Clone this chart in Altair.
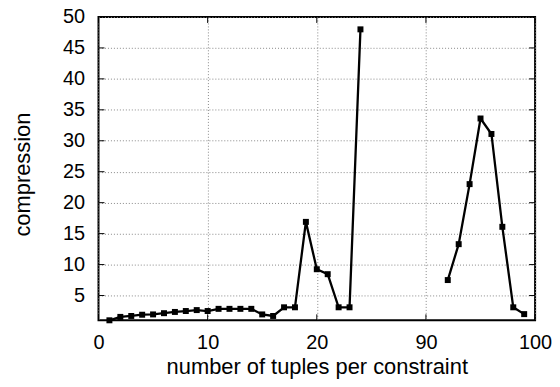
import altair as alt
import pandas as pd

# data
tuples = [1, 2, 3, 4, 5, 6, 7, 8, 9, 10, 11, 12, 13, 14, 15, 16, 17, 18, 19, 20, 21, 22, 23, 24,
          92, 93, 94, 95, 96, 97, 98, 99]
compression = [1.0, 1.55, 1.7, 1.9, 1.95, 2.15, 2.35, 2.5, 2.65, 2.5, 2.85, 2.85, 2.85, 2.85,
               1.95, 1.7, 3.1, 3.1, 16.9, 9.25, 8.45, 3.1, 3.1, 48.0,
               7.5, 13.3, 23.0, 33.6, 31.1, 16.1, 3.1, 2.0]
x_ticks = [0, 10, 20, 30, 40]          # axis positions (broken axis: 30 -> 90, 40 -> 100)
y_ticks = [5, 10, 15, 20, 25, 30, 35, 40, 45, 50]

df = pd.DataFrame({"n": tuples, "c": compression})
yt = pd.DataFrame({"v": y_ticks})
xt = pd.DataFrame({"v": x_ticks})

FONT = "Liberation Sans"
W, H = 439, 305

xscale = alt.Scale(domain=[0, 40], nice=False, zero=False)
yscale = alt.Scale(domain=[1, 50], nice=False, zero=False)

base = alt.Chart(df).transform_calculate(
    pos="datum.n > 50 ? datum.n - 60 : datum.n",
    seg="datum.n > 50 ? 'b' : 'a'",
)

xaxis = alt.Axis(values=x_ticks, labelExpr="datum.value >= 30 ? datum.value + 60 : datum.value",
                 title="number of tuples per constraint", tickSize=0, ticks=False, domain=False,
                 grid=True, gridColor="#888888", gridDash=[1, 2], gridWidth=1,
                 labelFont=FONT, labelFontSize=20, labelColor="black", labelPadding=12,
                 labelOverlap=False, labelFlush=False,
                 titleFont=FONT, titleFontSize=22, titleFontWeight="normal", titleColor="black",
                 titlePadding=4)
yaxis = alt.Axis(values=y_ticks, title="compression", tickSize=0, ticks=False, domain=False,
                 grid=True, gridColor="#888888", gridDash=[1, 2], gridWidth=1,
                 labelFont=FONT, labelFontSize=20, labelColor="black", labelPadding=14,
                 labelOverlap=False, labelFlush=False,
                 titleFont=FONT, titleFontSize=22, titleFontWeight="normal", titleColor="black",
                 titlePadding=28, titleY=158)

line = base.mark_line(color="black", strokeWidth=2.3).encode(
    x=alt.X("pos:Q", scale=xscale, axis=xaxis),
    y=alt.Y("c:Q", scale=yscale, axis=yaxis),
    detail="seg:N",
)
pts = base.mark_point(shape="square", filled=True, color="black", size=36, opacity=1).encode(
    x=alt.X("pos:Q", scale=xscale, axis=xaxis),
    y=alt.Y("c:Q", scale=yscale, axis=yaxis),
)

ytick_l = alt.Chart(yt).mark_rule(color="black", strokeWidth=1).encode(
    y=alt.Y("v:Q", scale=yscale, axis=yaxis), x=alt.value(0), x2=alt.value(6))
ytick_r = alt.Chart(yt).mark_rule(color="black", strokeWidth=1).encode(
    y=alt.Y("v:Q", scale=yscale, axis=yaxis), x=alt.value(W - 6), x2=alt.value(W))
xtick_b = alt.Chart(xt).mark_rule(color="black", strokeWidth=1).encode(
    x=alt.X("v:Q", scale=xscale, axis=xaxis), y=alt.value(H - 6), y2=alt.value(H))
xtick_t = alt.Chart(xt).mark_rule(color="black", strokeWidth=1).encode(
    x=alt.X("v:Q", scale=xscale, axis=xaxis), y=alt.value(0), y2=alt.value(6))

chart = alt.layer(line, ytick_l, ytick_r, xtick_b, xtick_t, pts).properties(
    width=W, height=H,
    autosize=alt.AutoSizeParams(type="none"),
    padding={"left": 91, "top": 8, "right": 17, "bottom": 58},
    background="white",
).configure_view(stroke="black", strokeWidth=2)

chart.save("out.html", embed_options={"renderer": "svg", "actions": False})
